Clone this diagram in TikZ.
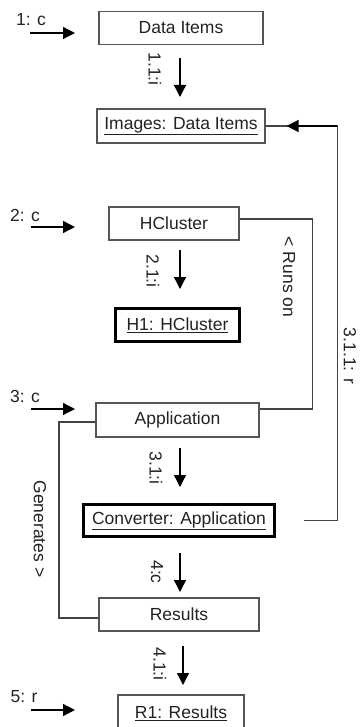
\documentclass[tikz,border=0pt]{standalone}
\usepackage{fontspec}
\setmainfont{Liberation Sans}
\usetikzlibrary{arrows.meta}
\definecolor{boxline}{HTML}{555555}
\definecolor{conline}{HTML}{444444}
\definecolor{txt}{HTML}{222222}
\begin{document}
\begin{tikzpicture}[x=1pt,y=-1pt,
  font=\fontsize{17.5}{20}\selectfont, text=txt,
  cls/.style={draw=boxline, line width=1.1pt, minimum height=33pt, inner sep=0pt, anchor=center},
  obj/.style={draw=black, line width=3.5pt, minimum height=33pt, inner sep=0pt, anchor=center},
  inst/.style={draw=boxline, line width=1.1pt, minimum height=34pt, inner sep=0pt, anchor=center},
  msg/.style={draw=black, line width=1.3pt, -{Triangle[length=12pt,width=12pt]}},
  conn/.style={draw=conline, line width=1.1pt},
  lbl/.style={inner sep=0pt, anchor=center},
  vlbl/.style={inner sep=0pt, anchor=center, rotate=-90}]
\useasboundingbox (0,0) rectangle (361,727);

% boxes
\node[cls, minimum width=164pt] (di) at (181,28) {Data Items};
\node[inst, minimum width=168pt] (img) at (181,126) {\underline{Images: Data Items}};
\node[cls, minimum width=130pt] (hc) at (174,223.5) {HCluster};
\node[obj, minimum width=124pt, minimum height=33pt] (h1) at (177.5,325) {\underline{H1: HCluster}};
\node[cls, minimum width=163pt, minimum height=34pt] (app) at (177.5,420) {Application};
\node[obj, minimum width=191pt, minimum height=32pt] (conv) at (179,520.5) {\underline{Converter: Application}};
\node[cls, minimum width=160pt] (res) at (179,614.5) {Results};
\node[inst, minimum width=126pt, minimum height=36pt] (r1) at (181,713) {\underline{R1: Results}};

% free-end coordinates for message arrows
\coordinate (m1s) at (30,33);   \coordinate (m1e) at (75,33);
\coordinate (m2s) at (31,227);  \coordinate (m2e) at (75,227);
\coordinate (m3s) at (31,409);  \coordinate (m3e) at (75,409);
\coordinate (m5s) at (31,710);  \coordinate (m5e) at (75,710);
\coordinate (v1s) at (180,58);  \coordinate (v1e) at (180,97);
\coordinate (v2s) at (180,250); \coordinate (v2e) at (180,289);
\coordinate (v3s) at (180,448); \coordinate (v3e) at (180,487);
\coordinate (v4s) at (180,553); \coordinate (v4e) at (180,592);
\coordinate (v5s) at (183,646); \coordinate (v5e) at (183,685);

\draw[msg] (m1s) -- (m1e);
\draw[msg] (m2s) -- (m2e);
\draw[msg] (m3s) -- (m3e);
\draw[msg] (m5s) -- (m5e);
\draw[msg] (v1s) -- (v1e);
\draw[msg] (v2s) -- (v2e);
\draw[msg] (v3s) -- (v3e);
\draw[msg] (v4s) -- (v4e);
\draw[msg] (v5s) -- (v5e);

% links
\draw[conn] ([yshift=4.5pt]hc.east) -- ++(73,0) |- ([yshift=11pt]app.east);
\draw[conn] ([yshift=-2pt]app.west) -| (59,600) |- ([yshift=-3.5pt]res.west);
\draw[conn, shorten <=28pt] (conv.east) -- ++(61,0) coordinate (c311) |- (img.east);
\draw[msg, shorten >=21pt] (c311 |- img.east) -- (img.east);

% labels
\node[lbl] (l1) at (31,20) {1: c};
\node[lbl] (l2) at (25,215) {2: c};
\node[lbl] (l3) at (25,396) {3: c};
\node[lbl] (l5) at (24,697) {5: r};
\node[vlbl] (lv1) at (155,69) {1.1:i};
\node[vlbl] (lv2) at (153,271) {2.1:i};
\node[vlbl] (lv3) at (156,468) {3.1:i};
\node[vlbl] (lv4) at (157,572) {4:c};
\node[vlbl] (lv5) at (160,664) {4.1:i};
\node[vlbl] (lruns) at (289,277) {< Runs on};
\node[vlbl] (l311) at (350,356) {3.1.1: r};
\node[vlbl] (lgen) at (40,529) {Generates >};
\end{tikzpicture}
\end{document}
